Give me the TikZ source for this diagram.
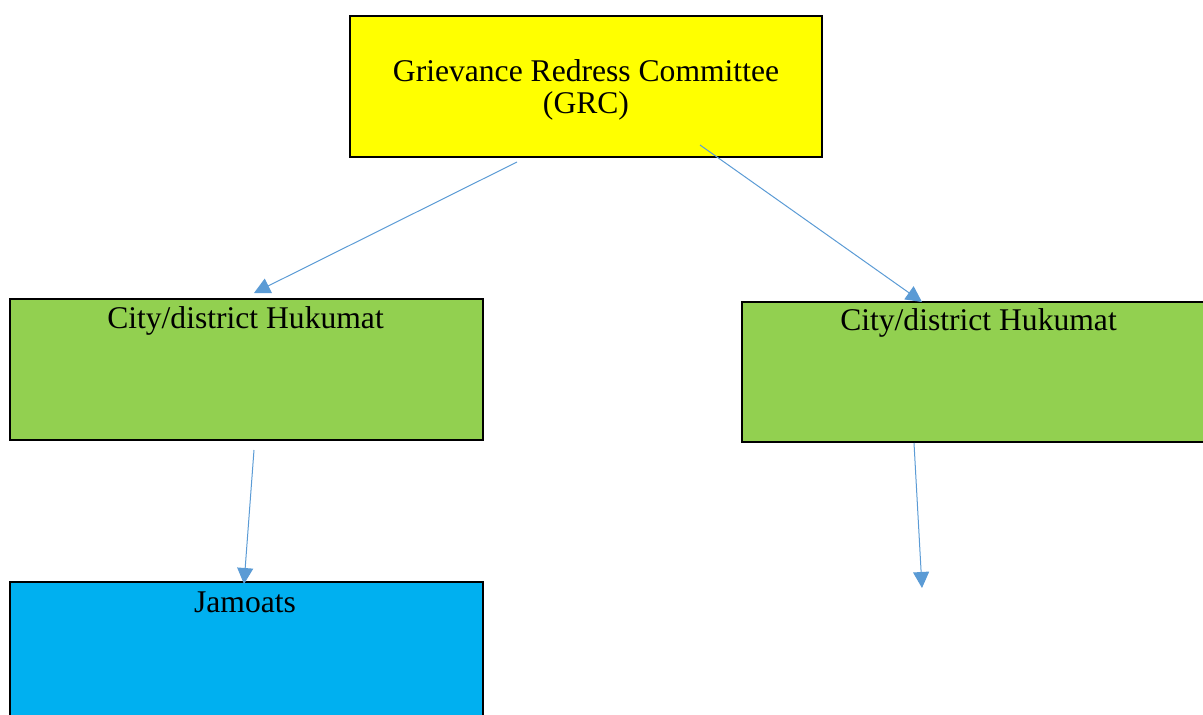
\documentclass[tikz,border=0pt]{standalone}
\usepackage{fontspec}
\setmainfont{Liberation Serif}
\usetikzlibrary{arrows.meta}
\definecolor{grcyellow}{HTML}{FFFF00}
\definecolor{hukgreen}{HTML}{92D050}
\definecolor{jamblue}{HTML}{00B0F0}
\definecolor{arrowblue}{HTML}{5B9BD5}
\tikzset{
  box/.style={draw=black, line width=2pt, minimum width=473pt, minimum height=141pt, inner sep=0pt, outer sep=0pt},
  label text/.style={font=\fontsize{31.6}{32.5}\selectfont, anchor=base, inner sep=0pt, align=center},
  conn/.style={draw=arrowblue, line width=1pt, -{Triangle[length=16pt,width=16pt]}}
}
\begin{document}
\begin{tikzpicture}[x=1pt,y=-1pt]
\useasboundingbox (0,0) rectangle (1203,715);
\clip (0,0) rectangle (1203,715);
\node[box, fill=grcyellow, minimum width=472pt] (grc) at (586,86.5) {};
\node[box, fill=hukgreen] (g1) at (246.5,369.5) {};
\node[box, fill=hukgreen, minimum height=140pt] (g2) at (978.5,372) {};
\node[box, fill=jamblue] (jam) at (246.5,652.5) {};
\node[label text] (grct) at (586,113.5) {Grievance Redress Committee\\(GRC)};
\node[label text] (g1t) at (245.5,328) {City/district Hukumat};
\node[label text] (g2t) at (978.5,330) {City/district Hukumat};
\node[label text] (jamt) at (245,612) {Jamoats};
\coordinate (end4) at (922,588);
\draw[conn] ([shift={(-69,5)}]grc.south) -- ([shift={(7.5,-6)}]g1.north);
\draw[conn] ([shift={(114,-12)}]grc.south) -- ([shift={(-56.5,0)}]g2.north);
\draw[conn] ([shift={(7.5,10)}]g1.south) -- ([shift={(-2.5,2)}]jam.north);
\draw[conn] ([shift={(-64.5,1)}]g2.south) -- (end4);
\end{tikzpicture}
\end{document}
